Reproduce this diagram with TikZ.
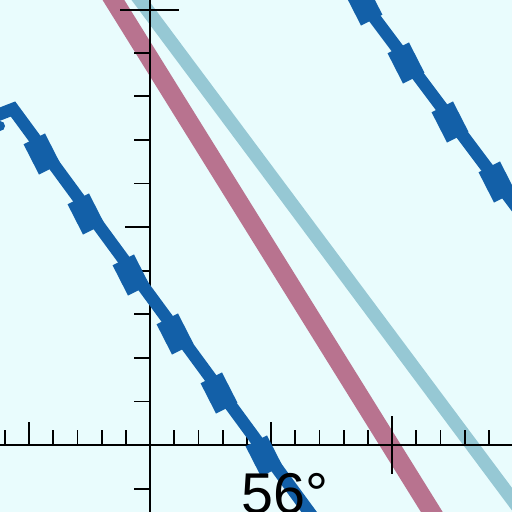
\documentclass[tikz,border=0pt]{standalone}
\usepackage{fontspec}
\setmainfont{Liberation Sans}
\definecolor{bgc}{HTML}{E9FCFD}
\definecolor{pinkc}{HTML}{B8738F}
\definecolor{lbluec}{HTML}{96C8D4}
\definecolor{dbluec}{HTML}{1360A8}
\begin{document}
\begin{tikzpicture}[x=1pt,y=-1pt,
  band/.style={line width=#1,line cap=butt},
  stair/.style={draw=dbluec,line width=12.5pt,line join=miter,miter limit=10},
  block/.style={fill=dbluec},
  axis/.style={draw=black,line width=2pt},
  tick/.style={draw=black,line width=1.8pt}]
\useasboundingbox (0,0) rectangle (512,512);
\fill[bgc] (0,0) rectangle (512,512);
\begin{scope}
\clip (0,0) rectangle (512,512);
% pink and light blue bands
\coordinate (p1) at (101,-20);
\coordinate (p2) at (443,530);
\draw[pinkc,band=18.5pt] (p1) -- (p2);
\coordinate (l1) at (125,-20);
\coordinate (l2) at (535,530);
\draw[lbluec,band=13.5pt] (l1) -- (l2);
% axes
\coordinate (vtop) at (150,0);
\coordinate (vbot) at (150,512);
\coordinate (hl) at (0,445);
\coordinate (hr) at (512,445);
\draw[axis] (vtop) -- (vbot);
\draw[axis] (hl) -- (hr);
% vertical axis ticks
\foreach \k in {-1,1,2,3,4,6,7,8,9} {
  \draw[tick] (134,{445-\k*43.6}) -- (150,{445-\k*43.6});
}
\draw[tick] (125,227) -- (150,227);
\draw[tick] (120,10) -- (179,10);
% horizontal axis ticks
\foreach \k in {-6,-4,-3,-2,-1,1,2,3,4,6,7,8,9,11,12,13,14} {
  \draw[tick] ({150+\k*24.2},445) -- ({150+\k*24.2},430);
}
\draw[tick] (29,445) -- (29,422);
\draw[tick] (271,445) -- (271,422);
\draw[tick,line width=2.4pt] (392,416) -- (392,474);
% left stepped blue line
\coordinate (a0) at (-5,116);
\coordinate (a1) at (13,109);
\coordinate (a2) at (315,520);
\draw[stair] (a0) -- (a1) -- (a2);
\fill[dbluec] (0,126) circle (5);
\foreach \cx/\cy in {42/154,86/214,131/275,175/334,219/393,264/456} {
  \fill[block,shift={(\cx,\cy)},rotate=-63] (-17pt,-12pt) rectangle (17pt,12pt);
}
% right stepped blue line
\coordinate (b1) at (355,-8);
\coordinate (b2) at (530,225);
\draw[stair] (b1) -- (b2);
\foreach \cx/\cy in {364/5,406/63,450/122,497/182} {
  \fill[block,shift={(\cx,\cy)},rotate=-63] (-17pt,-12pt) rectangle (17pt,12pt);
}
% label
\node[anchor=base west,inner sep=0pt,font=\fontsize{57.5}{60}\selectfont] (ang) at (241,513) {56°};
\end{scope}
\end{tikzpicture}
\end{document}
